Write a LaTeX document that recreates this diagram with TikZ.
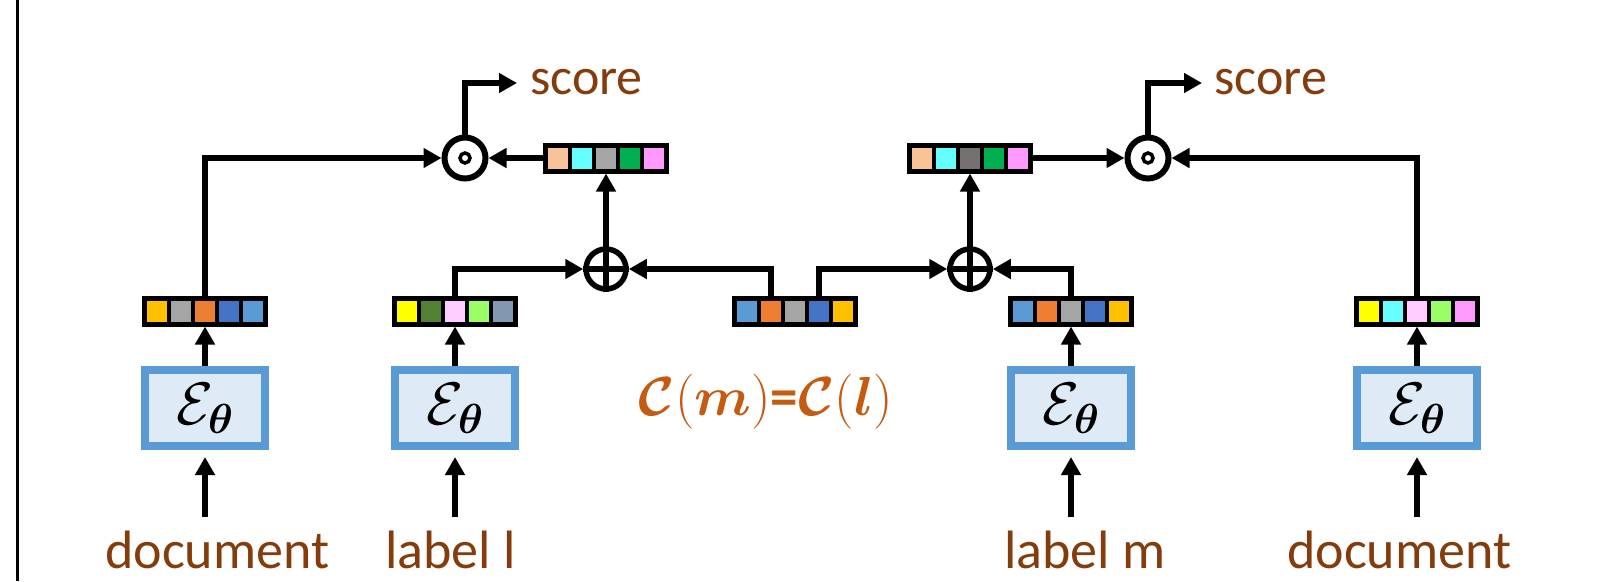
\RequirePackage{fix-cm}
\documentclass[tikz,border=0pt]{standalone}
\usepackage{amsmath}
\usepackage{fontspec}
\setmainfont{Carlito}
\usetikzlibrary{arrows.meta,calc}
\definecolor{txtB}{HTML}{843C0C}
\definecolor{fmC}{HTML}{C55A11}
\definecolor{encB}{HTML}{5B9BD5}
\definecolor{encF}{HTML}{DEEBF7}
\definecolor{cGold}{HTML}{FFC000}
\definecolor{cGray}{HTML}{A5A5A5}
\definecolor{cOrange}{HTML}{ED7D31}
\definecolor{cBlue}{HTML}{4472C4}
\definecolor{cLBlue}{HTML}{5B9BD5}
\definecolor{cYellow}{HTML}{FFFF00}
\definecolor{cDGreen}{HTML}{548235}
\definecolor{cLPink}{HTML}{FFCCFF}
\definecolor{cLGreen}{HTML}{99FF66}
\definecolor{cGBlue}{HTML}{8497B0}
\definecolor{cCyan}{HTML}{66FFFF}
\definecolor{cPink}{HTML}{FF99FF}
\definecolor{cPeach}{HTML}{F8C396}
\definecolor{cGreen}{HTML}{00B050}
\definecolor{cDGray}{HTML}{767171}
\newcommand{\vcells}[6]{%
  \foreach \cc [count=\i from 0] in {#2,#3,#4,#5,#6}
    {\fill[fill=\cc] ($(#1.center)+(-58+24*\i,-10.5)$) rectangle ++(20,21);}%
}
\tikzset{
  vec/.style={rectangle, fill=black, minimum width=126pt, minimum height=31pt, inner sep=0pt, outer sep=0pt},
  enc/.style={rectangle, draw=encB, fill=encF, line width=8pt, minimum width=120pt, minimum height=76pt, inner sep=0pt, font=\fontsize{60}{66}\selectfont},
  odotn/.style={circle, draw, line width=6pt, minimum size=41pt, inner sep=0pt},
  oplusn/.style={circle, draw, line width=5.5pt, minimum size=40pt, inner sep=0pt},
  arr/.style={line width=6pt, -{Triangle[length=18pt,width=19pt]}},
  lbl/.style={text=txtB, font=\fontsize{54}{60}\selectfont, inner sep=0pt, anchor=base west},
  scorelbl/.style={text=txtB, font=\fontsize{52}{58}\selectfont, inner sep=0pt, anchor=base west},
}
\begin{document}
\begin{tikzpicture}[x=1pt,y=-1pt]
\useasboundingbox (0,0) rectangle (1611,581);
\draw[line width=3pt] (17,0) -- (17,581);

% encoders
\node[enc] (box1) at (205,408) {$\mathcal{E}_{\boldsymbol{\theta}}$};
\node[enc] (box2) at (455,408) {$\mathcal{E}_{\boldsymbol{\theta}}$};
\node[enc] (box3) at (1071,408) {$\mathcal{E}_{\boldsymbol{\theta}}$};
\node[enc] (box4) at (1417,408) {$\mathcal{E}_{\boldsymbol{\theta}}$};

% vectors
\node[vec] (v1) at (205,311) {};
\vcells{v1}{cGold}{cGray}{cOrange}{cBlue}{cLBlue}
\node[vec] (v2) at (455,311) {};
\vcells{v2}{cYellow}{cDGreen}{cLPink}{cLGreen}{cGBlue}
\node[vec] (vc) at (795,311) {};
\vcells{vc}{cLBlue}{cOrange}{cGray}{cBlue}{cGold}
\node[vec] (v3) at (1071,311) {};
\vcells{v3}{cLBlue}{cOrange}{cGray}{cBlue}{cGold}
\node[vec] (v4) at (1417,311) {};
\vcells{v4}{cYellow}{cCyan}{cLPink}{cLGreen}{cPink}
\node[vec] (t1) at (606,158) {};
\vcells{t1}{cPeach}{cCyan}{cGray}{cGreen}{cPink}
\node[vec] (t2) at (970,158) {};
\vcells{t2}{cPeach}{cCyan}{cDGray}{cGreen}{cPink}

% operators
\node[oplusn] (op1) at (606,269) {};
\draw[line width=5.5pt] (op1.north) -- (op1.south) (op1.west) -- (op1.east);
\node[oplusn] (op2) at (970,269) {};
\draw[line width=5.5pt] (op2.north) -- (op2.south) (op2.west) -- (op2.east);
\node[odotn] (od1) at (465,158) {};
\draw[line width=3.5pt] (od1.center) circle (5pt);
\node[odotn] (od2) at (1148,158) {};
\draw[line width=3.5pt] (od2.center) circle (5pt);

% labels
\node[lbl] (doc1) at (105,568) {document};
\node[lbl] (lab1) at (385,568) {label l};
\node[lbl] (lab2) at (1004,568) {label m};
\node[lbl] (doc2) at (1287,568) {document};
\node[scorelbl] (sc1) at (530,94) {score};
\node[scorelbl] (sc2) at (1214,94) {score};
\node[text=fmC, font=\fontsize{55}{60}\selectfont, inner sep=0pt] (fm) at (766,402)
  {$\boldsymbol{\mathcal{C}}(\boldsymbol{m})$\textbf{=}$\boldsymbol{\mathcal{C}}(\boldsymbol{l})$};

% input arrows
\coordinate (i1) at (205,517);
\coordinate (i2) at (455,517);
\coordinate (i3) at (1071,517);
\coordinate (i4) at (1417,517);
\draw[arr, shorten >=7pt] (i1) -- (box1.south);
\draw[arr, shorten >=7pt] (i2) -- (box2.south);
\draw[arr, shorten >=7pt] (i3) -- (box3.south);
\draw[arr, shorten >=7pt] (i4) -- (box4.south);

% encoder to vector
\draw[arr] (box1.north) -- (v1.south);
\draw[arr] (box2.north) -- (v2.south);
\draw[arr] (box3.north) -- (v3.south);
\draw[arr] (box4.north) -- (v4.south);

% to oplus
\draw[arr] (v2.north) |- (op1.west);
\draw[arr] ([xshift=-24pt]vc.north) |- (op1.east);
\draw[arr] ([xshift=24pt]vc.north) |- (op2.west);
\draw[arr] (v3.north) |- (op2.east);
\draw[arr] (op1.north) -- (t1.south);
\draw[arr] (op2.north) -- (t2.south);

% to odot
\draw[arr] (v1.north) |- (od1.west);
\draw[arr] (t1.west) -- (od1.east);
\draw[arr] (t2.east) -- (od2.west);
\draw[arr] (v4.north) |- (od2.east);

% score
\coordinate (s1) at (517,83);
\coordinate (s2) at (1202,83);
\draw[arr] (od1.north) |- (s1);
\draw[arr] (od2.north) |- (s2);
\end{tikzpicture}
\end{document}
